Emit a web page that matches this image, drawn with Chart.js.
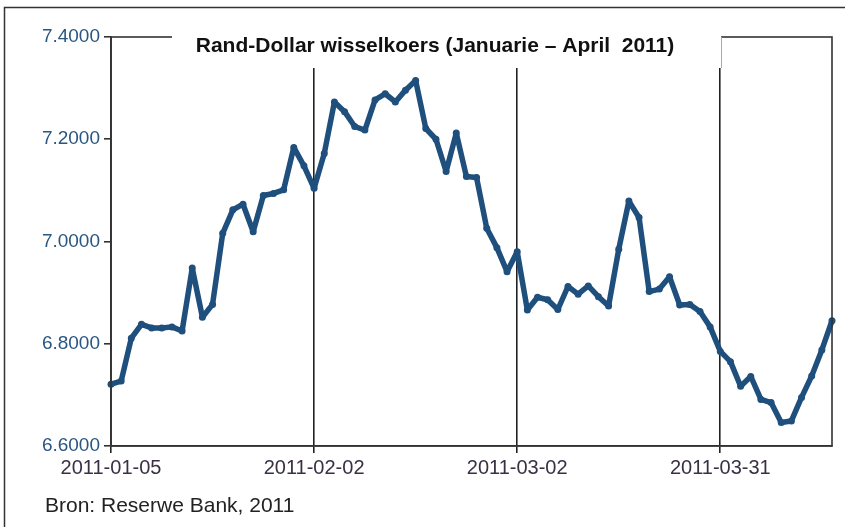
<!DOCTYPE html>
<html>
<head>
<meta charset="utf-8">
<script src="https://cdn.jsdelivr.net/npm/chart.js@4/dist/chart.umd.min.js"></script>
<style>
  html, body { margin: 0; padding: 0; background: #fff; }
  #wrap { width: 845px; height: 527px; position: relative; }
</style>
</head>
<body>
<div id="wrap"><canvas id="koers" width="845" height="527"></canvas></div>
<script>
// handelsdae Jan - Apr 2011
const datums = [
  "2011-01-05","2011-01-06","2011-01-07","2011-01-10","2011-01-11","2011-01-12","2011-01-13","2011-01-14",
  "2011-01-17","2011-01-18","2011-01-19","2011-01-20","2011-01-21","2011-01-24","2011-01-25","2011-01-26",
  "2011-01-27","2011-01-28","2011-01-31","2011-02-01","2011-02-02","2011-02-03","2011-02-04","2011-02-07",
  "2011-02-08","2011-02-09","2011-02-10","2011-02-11","2011-02-14","2011-02-15","2011-02-16","2011-02-17",
  "2011-02-18","2011-02-21","2011-02-22","2011-02-23","2011-02-24","2011-02-25","2011-02-28","2011-03-01",
  "2011-03-02","2011-03-03","2011-03-04","2011-03-07","2011-03-08","2011-03-09","2011-03-10","2011-03-11",
  "2011-03-14","2011-03-15","2011-03-16","2011-03-17","2011-03-18","2011-03-22","2011-03-23","2011-03-24",
  "2011-03-25","2011-03-28","2011-03-29","2011-03-30","2011-03-31","2011-04-01","2011-04-04","2011-04-05",
  "2011-04-06","2011-04-07","2011-04-08","2011-04-11","2011-04-12","2011-04-13","2011-04-14","2011-04-15"
];

const koers = [
  6.721, 6.727, 6.811, 6.838, 6.831, 6.831, 6.833, 6.825, 6.948, 6.852,
  6.877, 7.016, 7.062, 7.073, 7.019, 7.090, 7.094, 7.101, 7.184, 7.148,
  7.104, 7.172, 7.273, 7.254, 7.225, 7.218, 7.277, 7.289, 7.273, 7.296,
  7.315, 7.221, 7.200, 7.137, 7.212, 7.127, 7.125, 7.026, 6.988, 6.941,
  6.980, 6.866, 6.891, 6.886, 6.867, 6.912, 6.897, 6.913, 6.892, 6.874,
  6.985, 7.079, 7.047, 6.902, 6.907, 6.931, 6.876, 6.877, 6.863, 6.833,
  6.785, 6.765, 6.717, 6.736, 6.691, 6.685, 6.646, 6.649, 6.695, 6.737,
  6.788, 6.845
];

const merkDatums = ["2011-01-05", "2011-02-02", "2011-03-02", "2011-03-31"];
const titel = "Rand-Dollar wisselkoers (Januarie \u2013 April  2011)";
const bron = "Bron: Reserwe Bank, 2011";

const raamPlugin = {
  id: "raam",
  afterDraw(chart) {
    const ctx = chart.ctx;
    const a = chart.chartArea;
    ctx.save();
    // buiteraam
    ctx.strokeStyle = "#333";
    ctx.lineWidth = 1.5;
    ctx.beginPath();
    ctx.moveTo(4.5, 527);
    ctx.lineTo(4.5, 7.5);
    ctx.lineTo(845, 7.5);
    ctx.stroke();
    // grafiekraam
    ctx.lineWidth = 1.6;
    ctx.strokeRect(a.left, a.top, a.right - a.left, a.bottom - a.top);
    // titelblok
    ctx.fillStyle = "#fff";
    ctx.fillRect(172, 28, 549, 40);
    ctx.strokeStyle = "#aaa";
    ctx.lineWidth = 1;
    ctx.beginPath();
    ctx.moveTo(721.5, a.top);
    ctx.lineTo(721.5, 68);
    ctx.stroke();
    ctx.fillStyle = "#111";
    ctx.font = "bold 21px 'Liberation Sans', Arial, sans-serif";
    ctx.textAlign = "center";
    ctx.textBaseline = "middle";
    ctx.fillText(titel, 435, 46);
    // bron
    ctx.font = "21px 'Liberation Sans', Arial, sans-serif";
    ctx.textAlign = "left";
    ctx.fillStyle = "#222";
    ctx.fillText(bron, 45, 506);
    ctx.restore();
  }
};

new Chart(document.getElementById("koers"), {
  type: "line",
  data: {
    labels: datums,
    datasets: [{
      data: koers,
      borderColor: "#1f4f7c",
      backgroundColor: "#1f4f7c",
      borderWidth: 5.5,
      borderJoinStyle: "round",
      borderCapStyle: "round",
      pointRadius: 3.5,
      pointBorderWidth: 0,
      tension: 0
    }]
  },
  options: {
    responsive: false,
    animation: false,
    layout: { padding: { left: 0, top: 37, right: 13, bottom: 0 } },
    plugins: { legend: { display: false }, tooltip: { enabled: false } },
    scales: {
      x: {
        offset: false,
        afterFit: s => { s.height = 81; },
        border: { color: "#333", width: 1.6 },
        grid: {
          drawOnChartArea: true,
          tickLength: 7,
          lineWidth: 1.6,
          color: c => merkDatums.includes(datums[c.index]) ? "#222" : "rgba(0,0,0,0)"
        },
        ticks: {
          autoSkip: false,
          maxRotation: 0,
          padding: 3,
          color: "#3a3044",
          font: { family: "'Liberation Sans', Arial, sans-serif", size: 20 },
          callback: (v, i) => merkDatums.includes(datums[i]) ? datums[i] : ""
        }
      },
      y: {
        min: 6.6,
        max: 7.4,
        afterFit: s => { s.width = 111; },
        border: { color: "#333", width: 1.6 },
        grid: { drawOnChartArea: false, tickLength: 7, color: "#333", lineWidth: 1.6 },
        ticks: {
          stepSize: 0.2,
          padding: 4,
          color: "#2a5682",
          font: { family: "'Liberation Sans', Arial, sans-serif", size: 19 },
          callback: v => Number(v).toFixed(4)
        }
      }
    }
  },
  plugins: [raamPlugin]
});
</script>
</body>
</html>
